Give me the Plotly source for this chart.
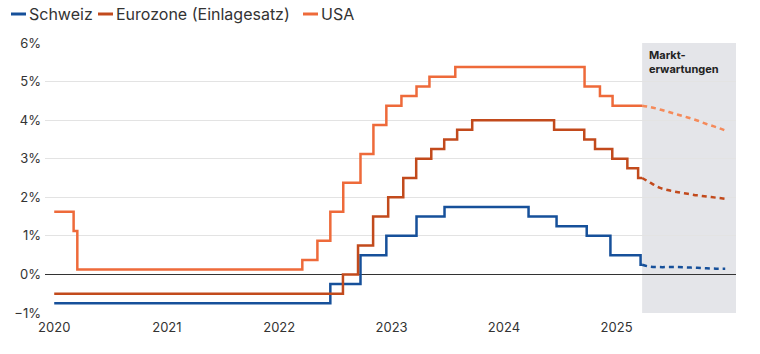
import plotly.graph_objects as go

# --- Data ---
ch_dates = ["2020-01-01", "2022-06-16", "2022-09-22", "2022-12-15", "2023-03-23", "2023-06-22",
            "2024-03-21", "2024-06-20", "2024-09-26", "2024-12-12", "2025-03-20", "2025-03-25"]
ch_vals = [-0.75, -0.25, 0.5, 1.0, 1.5, 1.75, 1.5, 1.25, 1.0, 0.5, 0.25, 0.25]

ez_dates = ["2020-01-01", "2022-07-27", "2022-09-14", "2022-11-02", "2022-12-21", "2023-02-08",
            "2023-03-22", "2023-05-10", "2023-06-21", "2023-08-02", "2023-09-20", "2024-06-12",
            "2024-09-18", "2024-10-23", "2024-12-18", "2025-02-05", "2025-03-12", "2025-03-25"]
ez_vals = [-0.5, 0.0, 0.75, 1.5, 2.0, 2.5, 3.0, 3.25, 3.5, 3.75, 4.0, 3.75, 3.5, 3.25, 3.0, 2.75, 2.5, 2.5]

us_dates = ["2020-01-01", "2020-03-04", "2020-03-16", "2022-03-17", "2022-05-05", "2022-06-16",
            "2022-07-28", "2022-09-22", "2022-11-03", "2022-12-15", "2023-02-02", "2023-03-23",
            "2023-05-04", "2023-07-27", "2024-09-19", "2024-11-08", "2024-12-19", "2025-03-25"]
us_vals = [1.625, 1.125, 0.125, 0.375, 0.875, 1.625, 2.375, 3.125, 3.875, 4.375, 4.625, 4.875,
           5.125, 5.375, 4.875, 4.625, 4.375, 4.375]

fc_dates = ["2025-03-25", "2025-04-20", "2025-05-20", "2025-06-20", "2025-07-20", "2025-08-20",
            "2025-09-20", "2025-10-20", "2025-11-20", "2025-12-20"]
us_fc = [4.375, 4.34, 4.28, 4.21, 4.14, 4.07, 3.99, 3.90, 3.82, 3.73]
ez_fc = [2.5, 2.38, 2.25, 2.18, 2.13, 2.09, 2.05, 2.02, 1.99, 1.96]
ch_fc = [0.25, 0.20, 0.19, 0.19, 0.19, 0.18, 0.17, 0.16, 0.15, 0.15]

series_names = ["Schweiz", "Eurozone (Einlagesatz)", "USA"]
year_ticks = ["2020-01-01", "2021-01-01", "2022-01-01", "2023-01-01", "2024-01-01", "2025-01-01"]
year_labels = ["2020", "2021", "2022", "2023", "2024", "2025"]
y_ticks = [-1, 0, 1, 2, 3, 4, 5, 6]
y_labels = ["−1%", "0%", "1%", "2%", "3%", "4%", "5%", "6%"]

forecast_start = "2025-03-25"
x_range = ["2019-12-02", "2026-01-24"]

C_CH = "#16509a"
C_EZ = "#c24a1c"
C_US = "#ee6a3a"
C_US_FC = "#f58a5a"
colors = [C_CH, C_EZ, C_US]

W, H = 760, 354
ML, MR, MT, MB = 45, 24, 43, 41
PW, PH = W - ML - MR, H - MT - MB

fig = go.Figure()

for d, v, name, c in zip([ch_dates, ez_dates, us_dates], [ch_vals, ez_vals, us_vals], series_names, colors):
    fig.add_trace(go.Scatter(x=d, y=v, mode="lines", name=name, showlegend=False,
                             line=dict(color=c, width=2.5, shape="hv")))

for v, c in zip([ch_fc, ez_fc, us_fc], [C_CH, C_EZ, C_US_FC]):
    fig.add_trace(go.Scatter(x=fc_dates, y=v, mode="lines", showlegend=False,
                             line=dict(color=c, width=2.5, dash="5px,4px", shape="spline")))

fig.add_shape(type="rect", xref="x", yref="paper", x0=forecast_start, x1=x_range[1],
              y0=0, y1=1, fillcolor="#e4e5e9", line=dict(width=0), layer="below")

fig.add_annotation(x=forecast_start, y=1, xref="x", yref="paper", xanchor="left", yanchor="top",
                   xshift=5, yshift=-3, showarrow=False, align="left",
                   text="<b>Markt-<br>erwartungen</b>",
                   font=dict(family="Inter", size=11, color="#222222"))

# manual legend (short line symbols as in the reference)
def px_x(p):
    return (p - ML) / PW

def px_y(p):
    return (H - MB - p) / PH

legend_sym_x = [11, 98, 303]
legend_y = 14
for sx, name, c in zip(legend_sym_x, series_names, colors):
    fig.add_shape(type="line", xref="paper", yref="paper",
                  x0=px_x(sx), x1=px_x(sx + 15), y0=px_y(legend_y), y1=px_y(legend_y),
                  line=dict(color=c, width=3))
    fig.add_annotation(x=px_x(sx + 16), y=px_y(legend_y), xref="paper", yref="paper",
                       xanchor="left", yanchor="middle", showarrow=False, text=name,
                       font=dict(family="Inter", size=16, color="#333333"))

fig.update_layout(
    width=W, height=H,
    margin=dict(l=ML, r=MR, t=MT, b=MB),
    paper_bgcolor="white", plot_bgcolor="white",
    font=dict(family="Inter", size=13, color="#333333"),
    showlegend=False,
    xaxis=dict(type="date", range=x_range, tickvals=year_ticks, ticktext=year_labels,
               showgrid=False, zeroline=False, showline=False, ticks="",
               ticklabelstandoff=5,
               tickfont=dict(size=13, color="#333333")),
    yaxis=dict(range=[-1, 6], tickvals=y_ticks, ticktext=y_labels,
               showgrid=True, gridcolor="#e3e3e3", gridwidth=1,
               zeroline=True, zerolinecolor="#333333", zerolinewidth=1,
               ticks="", ticklabelstandoff=3,
               tickfont=dict(size=13, color="#333333")),
)

fig.write_html("out.html")
